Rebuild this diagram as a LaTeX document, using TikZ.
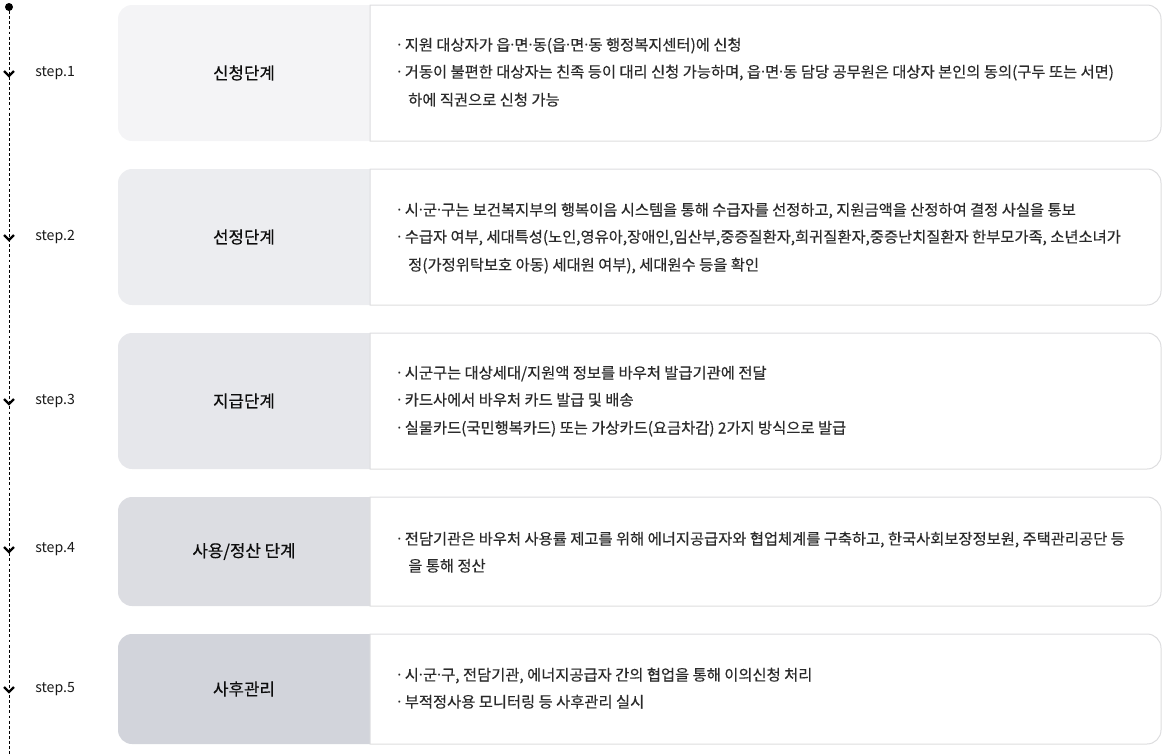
\documentclass[tikz,border=0pt]{standalone}
\usepackage{fontspec}
\setmainfont{Noto Sans CJK KR}
\newfontfamily\latinfont{Noto Sans}
\newfontfamily\titlefont{Noto Sans CJK KR}[FakeBold=0.45]
\newfontfamily\descfont{Noto Sans CJK KR}[FakeBold=0.35]
\usetikzlibrary{positioning,calc}

\definecolor{rowa}{HTML}{F4F4F6}
\definecolor{rowb}{HTML}{ECEDF0}
\definecolor{rowc}{HTML}{E6E7EB}
\definecolor{rowd}{HTML}{DCDDE2}
\definecolor{rowe}{HTML}{D2D4DB}
\definecolor{boxline}{HTML}{DDDDDF}
\definecolor{desc}{HTML}{2A2A2A}

\newcommand{\kdot}{{\latinfont ·}}

\tikzset{
  titletext/.style={font=\titlefont\fontsize{12.6}{14}\selectfont, text=black!95},
  steptext/.style={anchor=west, inner sep=0pt, font=\fontsize{10.6}{12}\selectfont, text=black!90},
  desctext/.style={anchor=base west, inner sep=0pt, font=\descfont\fontsize{11.5}{13}\selectfont, text=desc},
  descbox/.style={draw=boxline, fill=white, line width=0.75pt},
  chevron/.style={line width=1.7pt, line join=miter},
  timeline/.style={line width=0.6pt, dash pattern=on 2.2pt off 1.6pt}
}

\begin{document}
\begin{tikzpicture}[x=0.75pt, y=-0.75pt]
  \useasboundingbox (0,0) rectangle (1170,754);

  % time line on the left
  \node [circle, fill, inner sep=0pt, minimum size=6pt] (top) at (9,7) {};
  \coordinate (bottom) at (9,754);
  \draw [timeline] (top) -- (bottom);

  \coordinate (c1) at (9,76);
  \coordinate (c2) at (9,240);
  \coordinate (c3) at (9,404);
  \coordinate (c4) at (9,552);
  \coordinate (c5) at (9,692);
  \draw [chevron] ($(c1)+(-5,-5)$) -- (c1) -- ($(c1)+(5,-5)$);
  \draw [chevron] ($(c2)+(-5,-5)$) -- (c2) -- ($(c2)+(5,-5)$);
  \draw [chevron] ($(c3)+(-5,-5)$) -- (c3) -- ($(c3)+(5,-5)$);
  \draw [chevron] ($(c4)+(-5,-5)$) -- (c4) -- ($(c4)+(5,-5)$);
  \draw [chevron] ($(c5)+(-5,-5)$) -- (c5) -- ($(c5)+(5,-5)$);

  \node [steptext] (s1) at (35,73) {step.1};
  \node [steptext] (s2) at (35,237) {step.2};
  \node [steptext] (s3) at (35,401) {step.3};
  \node [steptext] (s4) at (35,549) {step.4};
  \node [steptext] (s5) at (35,689) {step.5};

  % step 1
  \fill [rowa, rounded corners=10.5pt] (118,5) rectangle (384,141);
  \draw [descbox] (370,5) -- (1147,5) arc[start angle=-90, end angle=0, radius=14]
    -- (1161,127) arc[start angle=0, end angle=90, radius=14] -- (370,141) -- cycle;
  \node [titletext] (t1) at (244,73) {신청단계};
  \node [desctext] (d1a) at (397,50.5) {\kdot\ 지원 대상자가 읍\kdot 면\kdot 동(읍\kdot 면\kdot 동 행정복지센터)에 신청};
  \node [desctext] (d1b) at (397,77.5) {\kdot\ 거동이 불편한 대상자는 친족 등이 대리 신청 가능하며, 읍\kdot 면\kdot 동 담당 공무원은 대상자 본인의 동의(구두 또는 서면)};
  \node [desctext] (d1c) at (408,105.5) {하에 직권으로 신청 가능};

  % step 2
  \fill [rowb, rounded corners=10.5pt] (118,169) rectangle (384,305);
  \draw [descbox] (370,169) -- (1147,169) arc[start angle=-90, end angle=0, radius=14]
    -- (1161,291) arc[start angle=0, end angle=90, radius=14] -- (370,305) -- cycle;
  \node [titletext] (t2) at (244,237) {선정단계};
  \node [desctext] (d2a) at (397,215.5) {\kdot\ 시\kdot 군\kdot 구는 보건복지부의 행복이음 시스템을 통해 수급자를 선정하고, 지원금액을 산정하여 결정 사실을 통보};
  \node [desctext] (d2b) at (397,242.5) {\kdot\ 수급자 여부, 세대특성(노인,영유아,장애인,임산부,중증질환자,희귀질환자,중증난치질환자 한부모가족, 소년소녀가};
  \node [desctext] (d2c) at (408,270.5) {정(가정위탁보호 아동) 세대원 여부), 세대원수 등을 확인};

  % step 3
  \fill [rowc, rounded corners=10.5pt] (118,333) rectangle (384,469);
  \draw [descbox] (370,333) -- (1147,333) arc[start angle=-90, end angle=0, radius=14]
    -- (1161,455) arc[start angle=0, end angle=90, radius=14] -- (370,469) -- cycle;
  \node [titletext] (t3) at (244,401) {지급단계};
  \node [desctext] (d3a) at (397,378.5) {\kdot\ 시군구는 대상세대/지원액 정보를 바우처 발급기관에 전달};
  \node [desctext] (d3b) at (397,405.5) {\kdot\ 카드사에서 바우처 카드 발급 및 배송};
  \node [desctext] (d3c) at (397,433.5) {\kdot\ 실물카드(국민행복카드) 또는 가상카드(요금차감) 2가지 방식으로 발급};

  % step 4
  \fill [rowd, rounded corners=10.5pt] (118,497) rectangle (384,606);
  \draw [descbox] (370,497) -- (1147,497) arc[start angle=-90, end angle=0, radius=14]
    -- (1161,592) arc[start angle=0, end angle=90, radius=14] -- (370,606) -- cycle;
  \node [titletext] (t4) at (244,551.5) {사용/정산 단계};
  \node [desctext] (d4a) at (397,544.5) {\kdot\ 전담기관은 바우처 사용률 제고를 위해 에너지공급자와 협업체계를 구축하고, 한국사회보장정보원, 주택관리공단 등};
  \node [desctext] (d4b) at (408,571.5) {을 통해 정산};

  % step 5
  \fill [rowe, rounded corners=10.5pt] (118,634) rectangle (384,744);
  \draw [descbox] (370,634) -- (1147,634) arc[start angle=-90, end angle=0, radius=14]
    -- (1161,730) arc[start angle=0, end angle=90, radius=14] -- (370,744) -- cycle;
  \node [titletext] (t5) at (244,689) {사후관리};
  \node [desctext] (d5a) at (397,680.5) {\kdot\ 시\kdot 군\kdot 구, 전담기관, 에너지공급자 간의 협업을 통해 이의신청 처리};
  \node [desctext] (d5b) at (397,707.5) {\kdot\ 부적정사용 모니터링 등 사후관리 실시};
\end{tikzpicture}
\end{document}
